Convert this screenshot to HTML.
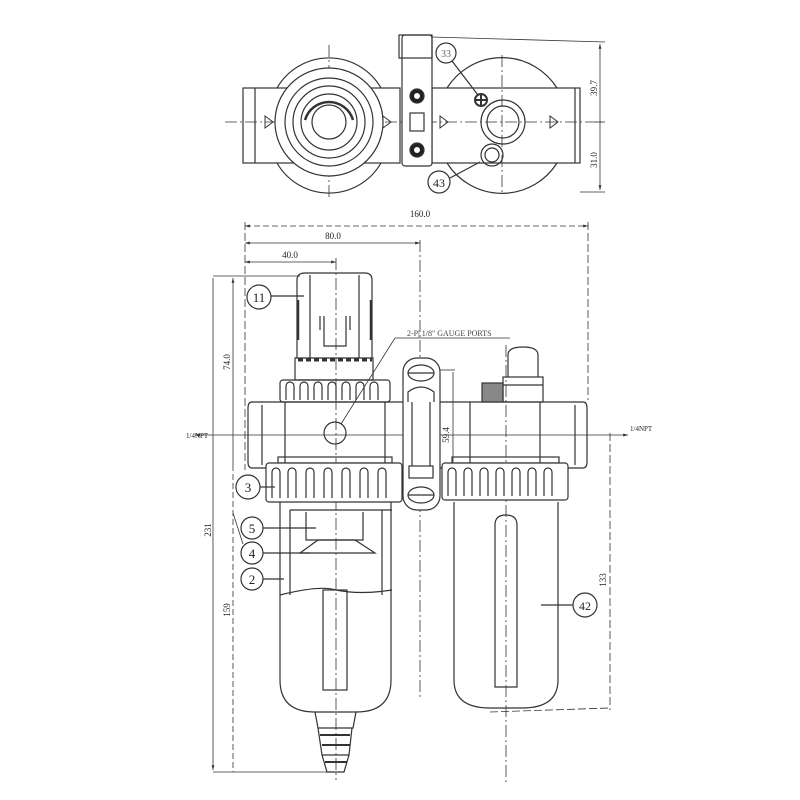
<!DOCTYPE html>
<html><head><style>html,body{margin:0;padding:0;background:#fff}svg{display:block}</style></head><body>
<svg width="800" height="800" viewBox="0 0 800 800" xmlns="http://www.w3.org/2000/svg" font-family="Liberation Serif, serif" fill="none" stroke="#333" stroke-width="1.2">
<defs><marker id="a" viewBox="0 0 10 10" refX="10" refY="5" markerWidth="6" markerHeight="6" orient="auto-start-reverse"><path d="M0,2 L10,5 L0,8z" fill="#333" stroke="none"/></marker></defs>
<g>
<line x1="225" y1="122" x2="605" y2="122" stroke-dasharray="12,3,2,3" stroke-width="0.8"/>
<line x1="329" y1="45" x2="329" y2="200" stroke-dasharray="12,3,2,3" stroke-width="0.8"/>
<line x1="502" y1="55" x2="502" y2="192" stroke-dasharray="12,3,2,3" stroke-width="0.8"/>
<path d="M277,88 A60,60 0 0 1 381,88"/><path d="M277,163 A60,60 0 0 0 381,163"/>
<rect x="243" y="88" width="157" height="75"/>
<line x1="255" y1="88" x2="255" y2="163"/>
<circle cx="329" cy="122" r="54" fill="#fff"/>
<circle cx="329" cy="122" r="44"/><circle cx="329" cy="122" r="36"/><circle cx="329" cy="122" r="28"/><circle cx="329" cy="122" r="17"/>
<path d="M305,120 A25,25 0 0 1 353,120" stroke-width="2.5"/>
<path d="M265,128 l8,-6 l-8,-6z M383,128 l8,-6 l-8,-6z M440,128 l8,-6 l-8,-6z M550,128 l8,-6 l-8,-6z" stroke-width="1"/>
<path d="M447,88 A65,65 0 0 1 557,88"/><path d="M447,163 A65,65 0 0 0 557,163"/>
<rect x="432" y="88" width="148" height="75"/>
<line x1="575" y1="88" x2="575" y2="163"/>
<rect x="402" y="35" width="30" height="131" rx="3" fill="#fff"/>
<rect x="399" y="35" width="33" height="23"/>
<circle cx="417" cy="96" r="7" fill="#222"/><circle cx="417" cy="96" r="3" fill="#fff" stroke="none"/>
<circle cx="417" cy="150" r="7" fill="#222"/><circle cx="417" cy="150" r="3" fill="#fff" stroke="none"/>
<rect x="410" y="113" width="14" height="18"/>
<circle cx="503" cy="122" r="22"/><circle cx="503" cy="122" r="16"/>
<circle cx="492" cy="155" r="11"/><circle cx="492" cy="155" r="7"/>
<circle cx="481" cy="100" r="6" stroke-width="2"/><line x1="475" y1="100" x2="487" y2="100" stroke-width="2"/><line x1="481" y1="94" x2="481" y2="106" stroke-width="2"/>
<circle cx="446" cy="53" r="10"/><line x1="452" y1="61" x2="478" y2="95"/>
<text x="446" y="57" font-size="10" fill="#666" stroke="none" text-anchor="middle">33</text>
<circle cx="439" cy="182" r="11"/><line x1="450" y1="178" x2="480" y2="162"/>
<text x="439" y="187" font-size="12" fill="#222" stroke="none" text-anchor="middle">43</text>
<line x1="432" y1="37" x2="605" y2="42" stroke-width="0.8"/><line x1="580" y1="192" x2="605" y2="192" stroke-width="0.8"/>
<line x1="600" y1="44" x2="600" y2="190" stroke-width="0.8" marker-start="url(#a)" marker-end="url(#a)"/>
<line x1="595" y1="122" x2="605" y2="122" stroke-width="0.8"/>
<text transform="translate(597,88) rotate(-90)" font-size="9" fill="#222" stroke="none" text-anchor="middle">39.7</text>
<text transform="translate(597,160) rotate(-90)" font-size="9" fill="#222" stroke="none" text-anchor="middle">31.0</text>
</g>
<g stroke-width="0.8">
<text x="420" y="217" font-size="9" fill="#222" stroke="none" text-anchor="middle">160.0</text>
<line x1="245" y1="226" x2="588" y2="226" stroke-dasharray="6,3" marker-start="url(#a)" marker-end="url(#a)"/>
<line x1="588" y1="222" x2="588" y2="400" stroke-dasharray="8,3"/>
<text x="333" y="239" font-size="9" fill="#222" stroke="none" text-anchor="middle">80.0</text>
<line x1="245" y1="243" x2="420" y2="243" marker-start="url(#a)" marker-end="url(#a)"/>
<text x="290" y="258" font-size="9" fill="#222" stroke="none" text-anchor="middle">40.0</text>
<line x1="245" y1="262" x2="336" y2="262" marker-start="url(#a)" marker-end="url(#a)"/>
<line x1="245" y1="222" x2="245" y2="470" stroke-dasharray="8,3"/>
<line x1="420" y1="240" x2="420" y2="700" stroke-dasharray="12,3,2,3"/>
<line x1="336" y1="258" x2="336" y2="780" stroke-dasharray="12,3,2,3"/>
<line x1="506" y1="345" x2="506" y2="785" stroke-dasharray="12,3,2,3"/>
<line x1="213" y1="276" x2="300" y2="276"/>
<line x1="213" y1="278" x2="213" y2="770" marker-end="url(#a)"/>
<line x1="233" y1="278" x2="233" y2="465" marker-start="url(#a)"/>
<line x1="233" y1="465" x2="233" y2="772" stroke-dasharray="6,3"/>
<line x1="213" y1="772" x2="335" y2="772"/>
<text transform="translate(230,362) rotate(-90)" font-size="9" fill="#222" stroke="none" text-anchor="middle">74.0</text>
<text transform="translate(211,530) rotate(-90)" font-size="9" fill="#222" stroke="none" text-anchor="middle">231</text>
<text transform="translate(230,610) rotate(-90)" font-size="9" fill="#222" stroke="none" text-anchor="middle">159</text>
<line x1="195" y1="435" x2="628" y2="435" marker-start="url(#a)" marker-end="url(#a)"/>
<text x="186" y="438" font-size="7" fill="#222" stroke="none">1/4NPT</text>
<text x="630" y="431" font-size="7" fill="#222" stroke="none">1/4NPT</text>
<line x1="453" y1="372" x2="453" y2="466"/>
<line x1="440" y1="370" x2="455" y2="370"/>
<text transform="translate(449,435) rotate(-90)" font-size="9" fill="#222" stroke="none" text-anchor="middle">59.4</text>
<line x1="610" y1="433" x2="610" y2="710" stroke-dasharray="8,3"/>
<text transform="translate(606,580) rotate(-90)" font-size="9" fill="#222" stroke="none" text-anchor="middle">133</text>
<line x1="490" y1="712" x2="610" y2="708" stroke-dasharray="8,3"/>
</g>
<g>
<path d="M297,358 L297,280 Q297,273 305,273 L365,273 Q372,273 372,280 L372,358"/>
<path d="M298,300 v40 M371,300 v40" stroke-width="2.5"/>
<line x1="310" y1="275" x2="310" y2="358"/><line x1="359" y1="275" x2="359" y2="358"/>
<path d="M320,330 L320,316 M324,316 L324,346 L346,346 L346,316 M350,316 L350,330"/>
<path d="M295,358 h78 v22 h-78z"/>
<path d="M298,360 h74" stroke-dasharray="5,3" stroke-width="3"/>
<rect x="280" y="380" width="110" height="22" rx="3"/>
<path d="M286,400 v-14 a4,4 0 0 1 8,0 v14 M300,400 v-14 a4,4 0 0 1 8,0 v14 M314,400 v-14 a4,4 0 0 1 8,0 v14 M328,400 v-14 a4,4 0 0 1 8,0 v14 M342,400 v-14 a4,4 0 0 1 8,0 v14 M356,400 v-14 a4,4 0 0 1 8,0 v14 M370,400 v-14 a4,4 0 0 1 8,0 v14"/>
<circle cx="259" cy="297" r="12"/><line x1="271" y1="296" x2="304" y2="296"/>
<text x="259" y="302" font-size="13" fill="#222" stroke="none" text-anchor="middle">11</text>
</g>
<path d="M252,402 H583 Q587,402 587,408 V462 Q587,468 583,468 H252 Q248,468 248,462 V408 Q248,402 252,402z"/>
<line x1="262" y1="405" x2="262" y2="465"/><line x1="575" y1="405" x2="575" y2="465"/>
<line x1="285" y1="402" x2="285" y2="463"/><line x1="385" y1="402" x2="385" y2="463"/>
<line x1="470" y1="402" x2="470" y2="463"/><line x1="540" y1="402" x2="540" y2="463"/>
<circle cx="335" cy="433" r="11"/>
<line x1="341" y1="424" x2="395" y2="338" stroke-width="0.8"/><line x1="395" y1="338" x2="510" y2="338" stroke-width="0.8"/>
<text x="407" y="336" font-size="8" fill="#444" stroke="none">2-P| 1/8" GAUGE PORTS</text>
<rect x="403" y="358" width="37" height="152" rx="14" fill="#fff"/>
<ellipse cx="421" cy="373" rx="13" ry="8"/><ellipse cx="421" cy="495" rx="13" ry="8"/>
<line x1="408" y1="373" x2="434" y2="373"/><line x1="408" y1="495" x2="434" y2="495"/>
<path d="M408,402 v-10 q13,-10 26,0 v10"/><rect x="409" y="466" width="24" height="12"/>
<line x1="412" y1="402" x2="412" y2="466"/><line x1="430" y1="402" x2="430" y2="466"/>
<path d="M508,377 V355 Q508,347 523,347 Q538,347 538,355 V377"/>
<rect x="503" y="377" width="40" height="25"/><line x1="503" y1="385" x2="543" y2="385"/>
<rect x="482" y="383" width="21" height="19" fill="#888"/>
<rect x="278" y="457" width="114" height="6"/>
<rect x="266" y="463" width="136" height="39" rx="3" fill="#fff"/>
<path d="M272,498 v-26 a4,4 0 0 1 8,0 v26 M288,498 v-26 a4,4 0 0 1 8,0 v26 M306,498 v-26 a4,4 0 0 1 8,0 v26 M324,498 v-26 a4,4 0 0 1 8,0 v26 M342,498 v-26 a4,4 0 0 1 8,0 v26 M360,498 v-26 a4,4 0 0 1 8,0 v26 M378,498 v-26 a4,4 0 0 1 8,0 v26"/>
<circle cx="248" cy="487" r="12" fill="#fff"/><line x1="260" y1="487" x2="275" y2="487"/>
<text x="248" y="492" font-size="13" fill="#222" stroke="none" text-anchor="middle">3</text>
<rect x="452" y="457" width="107" height="6"/>
<rect x="442" y="463" width="126" height="37" rx="3" fill="#fff"/>
<path d="M448,496 v-24 a4,4 0 0 1 8,0 v24 M464,496 v-24 a4,4 0 0 1 8,0 v24 M480,496 v-24 a4,4 0 0 1 8,0 v24 M496,496 v-24 a4,4 0 0 1 8,0 v24 M512,496 v-24 a4,4 0 0 1 8,0 v24 M528,496 v-24 a4,4 0 0 1 8,0 v24 M544,496 v-24 a4,4 0 0 1 8,0 v24"/>
<path d="M280,502 V680 Q280,712 315,712 H356 Q391,712 391,680 V502"/>
<path d="M290,510 H392 M290,510 V595 M382,510 V595 M280,595 Q320,585 336,590 Q360,595 392,590"/>
<path d="M306,512 V540 H363 V512"/>
<path d="M300,553 L318,540 H355 L375,553z"/>
<rect x="323" y="590" width="24" height="100"/>
<path d="M315,712 L318,728 H353 L356,712 M318,728 L322,755 H349 L352,728 M322,755 L327,772 H344 L349,755"/>
<path d="M320,735 h30 M322,745 h28 M325,762 h22" stroke-width="2"/>
<circle cx="252" cy="528" r="11" fill="#fff"/><line x1="263" y1="528" x2="316" y2="528"/>
<text x="252" y="533" font-size="13" fill="#222" stroke="none" text-anchor="middle">5</text>
<circle cx="252" cy="553" r="11" fill="#fff"/><line x1="263" y1="553" x2="310" y2="553"/>
<text x="252" y="558" font-size="13" fill="#222" stroke="none" text-anchor="middle">4</text>
<line x1="243" y1="544" x2="233" y2="513" stroke-width="0.8"/>
<circle cx="252" cy="579" r="11" fill="#fff"/><line x1="263" y1="579" x2="284" y2="579"/>
<text x="252" y="584" font-size="13" fill="#222" stroke="none" text-anchor="middle">2</text>
<path d="M454,502 V680 Q454,708 490,708 H522 Q558,708 558,680 V502"/>
<path d="M495,687 V525 Q495,515 506,515 Q517,515 517,525 V687z"/>
<circle cx="585" cy="605" r="12" fill="#fff"/><line x1="541" y1="605" x2="573" y2="605"/>
<text x="585" y="610" font-size="12" fill="#222" stroke="none" text-anchor="middle">42</text>
</svg>
</body></html>
